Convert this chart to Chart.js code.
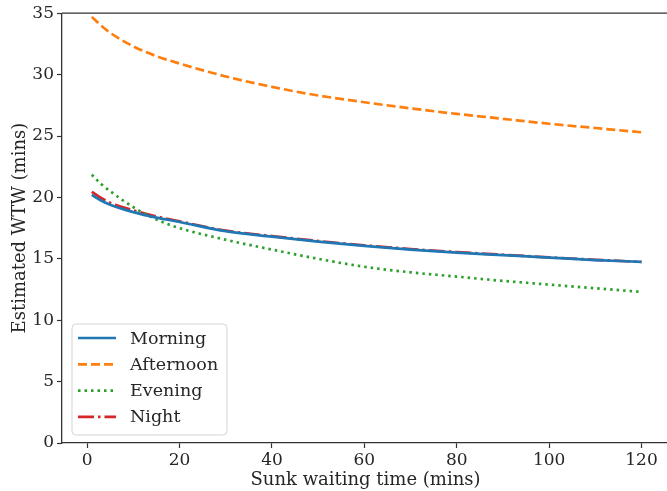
<!DOCTYPE html>
<html>
<head>
<meta charset="utf-8">
<script src="https://cdn.jsdelivr.net/npm/chart.js@4"></script>
<style>
    html, body { margin: 0; padding: 0; background: #fff; overflow: hidden; }
    #wrap { width: 672px; height: 491px; }
</style>
</head>
<body>
<div id="wrap"><canvas id="wtw-chart" width="672" height="491"></canvas></div>
<script>
// sunk waiting time (mins)
const sunk = [1, 3, 5, 10, 15, 20, 30, 40, 50, 60, 70, 80, 90, 100, 110, 120];

// estimated WTW (mins) per time of day
const morning   = [20.2, 19.75, 19.4, 18.8, 18.35, 18.0, 17.25, 16.8, 16.4, 16.05, 15.75, 15.5, 15.3, 15.1, 14.9, 14.75];
const afternoon = [34.7, 34.0, 33.4, 32.3, 31.5, 30.9, 29.85, 29.0, 28.3, 27.75, 27.25, 26.8, 26.4, 26.0, 25.65, 25.3];
const evening   = [21.85, 21.1, 20.5, 19.2, 18.2, 17.5, 16.55, 15.75, 15.0, 14.35, 13.9, 13.55, 13.2, 12.9, 12.6, 12.3];
const night     = [20.45, 19.95, 19.55, 18.95, 18.45, 18.05, 17.3, 16.85, 16.45, 16.1, 15.8, 15.55, 15.33, 15.12, 14.92, 14.75];

const series_labels = ["Morning", "Afternoon", "Evening", "Night"];
const x_ticks = [0, 20, 40, 60, 80, 100, 120];
const y_ticks = [0, 5, 10, 15, 20, 25, 30, 35];

const font_family = "'DejaVu Serif', 'Liberation Serif', serif";
const ink = "#262626";

const to_points = (values) => values.map((y, i) => ({x: sunk[i], y}));

const line_set = (label, values, color, dash) => ({
    label,
    data: to_points(values),
    borderColor: color,
    backgroundColor: color,
    borderWidth: 2.7,
    borderDash: dash,
    borderCapStyle: "butt",
    pointRadius: 0,
    fill: false,
    cubicInterpolationMode: "monotone",
});

// top spine + in-plot legend, matplotlib style
const frame_legend = {
    id: "frame_legend",
    afterDraw(chart) {
        const {ctx, chartArea: a} = chart;
        ctx.save();
        ctx.strokeStyle = "#333";
        ctx.lineWidth = 1.3;
        ctx.beginPath();
        ctx.moveTo(a.left, a.top);
        ctx.lineTo(a.right, a.top);
        ctx.stroke();

        const bx = a.left + 10, bw = 155, bh = 111, by = a.bottom - 8 - bh;
        ctx.beginPath();
        ctx.roundRect(bx, by, bw, bh, 4);
        ctx.fillStyle = "rgba(255,255,255,0.85)";
        ctx.fill();
        ctx.strokeStyle = "#d5d5d5";
        ctx.lineWidth = 1;
        ctx.stroke();

        ctx.font = "17.5px " + font_family;
        ctx.textBaseline = "middle";
        chart.data.datasets.forEach((ds, i) => {
            const yy = by + 14 + i * 26.3;
            ctx.beginPath();
            ctx.setLineDash(ds.borderDash || []);
            ctx.strokeStyle = ds.borderColor;
            ctx.lineWidth = ds.borderWidth;
            ctx.moveTo(bx + 6, yy);
            ctx.lineTo(bx + 44, yy);
            ctx.stroke();
            ctx.setLineDash([]);
            ctx.fillStyle = ink;
            ctx.fillText(ds.label, bx + 58, yy + 1);
        });
        ctx.restore();
    }
};

const ctx = document.getElementById("wtw-chart").getContext("2d");

new Chart(ctx, {
    type: "line",
    data: {
        datasets: [
            line_set(series_labels[0], morning, "#1f77b4", []),
            line_set(series_labels[1], afternoon, "#ff7f0e", [9, 4]),
            line_set(series_labels[2], evening, "#2ca02c", [2.5, 4]),
            line_set(series_labels[3], night, "#d62728", [16, 4, 2.5, 4]),
        ],
    },
    options: {
        responsive: false,
        animation: false,
        layout: {padding: {top: 9, right: 3, left: 0, bottom: 0}},
        plugins: {
            legend: {display: false},
            tooltip: {enabled: false},
        },
        scales: {
            x: {
                type: "linear",
                min: -5.45,
                max: 125.95,
                afterBuildTicks: (scale) => { scale.ticks = x_ticks.map((value) => ({value})); },
                afterFit: (scale) => { scale.height = 48; },
                grid: {drawOnChartArea: false, drawTicks: true, tickLength: 5, color: "#333", tickWidth: 1.2},
                border: {display: true, color: "#333", width: 1.3},
                ticks: {color: ink, font: {family: font_family, size: 17}, padding: 2, maxRotation: 0},
                title: {display: true, text: "Sunk waiting time (mins)", color: ink, font: {family: font_family, size: 18}, padding: {top: 0, bottom: 0}},
            },
            y: {
                type: "linear",
                min: 0,
                max: 35,
                afterBuildTicks: (scale) => { scale.ticks = y_ticks.map((value) => ({value})); },
                afterFit: (scale) => { scale.width = 62; },
                grid: {drawOnChartArea: false, drawTicks: true, tickLength: 5, color: "#333", tickWidth: 1.2},
                border: {display: true, color: "#333", width: 1.3},
                ticks: {color: ink, font: {family: font_family, size: 17}, padding: 3},
                title: {display: true, text: "Estimated WTW (mins)", color: ink, font: {family: font_family, size: 18}, padding: {top: 10, bottom: 0}},
            },
        },
    },
    plugins: [frame_legend],
});
</script>
</body>
</html>
